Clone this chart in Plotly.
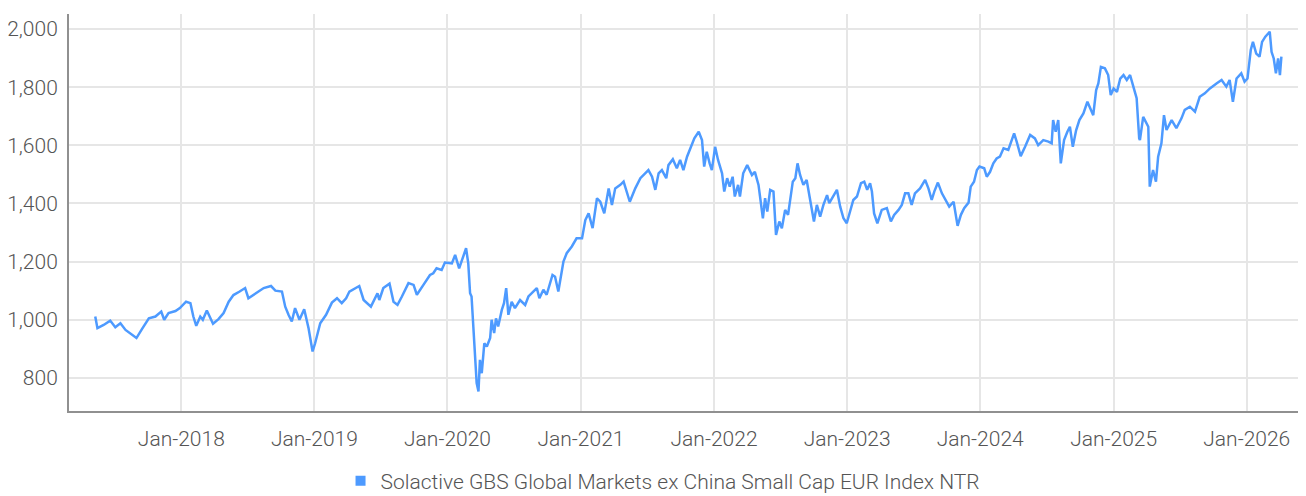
import plotly.graph_objects as go

SERIES_NAME = "Solactive GBS Global Markets ex China Small Cap EUR Index NTR"

dates = [
    "2017-05-10", "2017-05-16", "2017-06-02", "2017-06-20", "2017-07-04", "2017-07-18", "2017-08-01",
    "2017-08-14", "2017-08-31", "2017-09-15", "2017-10-04", "2017-10-22", "2017-11-07", "2017-11-15",
    "2017-11-27", "2017-12-16", "2017-12-28",
    "2018-01-14", "2018-01-26", "2018-02-03", "2018-02-11", "2018-02-22", "2018-03-01", "2018-03-12",
    "2018-03-22", "2018-03-29", "2018-04-13", "2018-04-27", "2018-05-11", "2018-05-24", "2018-06-10",
    "2018-06-18", "2018-06-25", "2018-07-04", "2018-07-23", "2018-08-15", "2018-09-04", "2018-09-16",
    "2018-10-04", "2018-10-13", "2018-10-22", "2018-10-31", "2018-11-09", "2018-11-21", "2018-12-04",
    "2018-12-16", "2018-12-27",
    "2019-01-03", "2019-01-17", "2019-02-02", "2019-02-18", "2019-03-04", "2019-03-17", "2019-03-29",
    "2019-04-07", "2019-04-23", "2019-05-04", "2019-05-16", "2019-06-05", "2019-06-23", "2019-06-28",
    "2019-07-09", "2019-07-26", "2019-08-06", "2019-08-17", "2019-08-29", "2019-09-16", "2019-09-30",
    "2019-10-09", "2019-10-27", "2019-11-14", "2019-11-23", "2019-12-02", "2019-12-16", "2019-12-25",
    "2020-01-13", "2020-01-22", "2020-02-02", "2020-02-12", "2020-02-21", "2020-02-27", "2020-03-03",
    "2020-03-07", "2020-03-12", "2020-03-17", "2020-03-21", "2020-03-26", "2020-03-30", "2020-04-04",
    "2020-04-11", "2020-04-18", "2020-04-27", "2020-05-01", "2020-05-08", "2020-05-13", "2020-05-19",
    "2020-05-29", "2020-06-04", "2020-06-10", "2020-06-16", "2020-06-25", "2020-07-04", "2020-07-18",
    "2020-08-01", "2020-08-10", "2020-08-24", "2020-09-02", "2020-09-09", "2020-09-20", "2020-09-29",
    "2020-10-15", "2020-10-22", "2020-10-31", "2020-11-14", "2020-11-23", "2020-12-07", "2020-12-20",
    "2021-01-04", "2021-01-13", "2021-01-22", "2021-02-02", "2021-02-14", "2021-02-23", "2021-03-06",
    "2021-03-18", "2021-03-27", "2021-04-05", "2021-04-19", "2021-04-28", "2021-05-15", "2021-05-30",
    "2021-06-13", "2021-07-05", "2021-07-15", "2021-07-24", "2021-08-02", "2021-08-11", "2021-08-23",
    "2021-08-29", "2021-09-10", "2021-09-21", "2021-09-30", "2021-10-09", "2021-10-19", "2021-10-25",
    "2021-11-08", "2021-11-20", "2021-11-29", "2021-12-05", "2021-12-12", "2021-12-20", "2021-12-26",
    "2022-01-04", "2022-01-12", "2022-01-23", "2022-01-29", "2022-02-06", "2022-02-13", "2022-02-21",
    "2022-02-27", "2022-03-08", "2022-03-13", "2022-03-22", "2022-04-02", "2022-04-15", "2022-04-23",
    "2022-05-03", "2022-05-09", "2022-05-15", "2022-05-21", "2022-05-27", "2022-06-04", "2022-06-13",
    "2022-06-20", "2022-06-29", "2022-07-06", "2022-07-15", "2022-07-23", "2022-07-29", "2022-08-05",
    "2022-08-12", "2022-08-18", "2022-08-25", "2022-09-03", "2022-09-12", "2022-09-22", "2022-10-02",
    "2022-10-10", "2022-10-19", "2022-10-28", "2022-11-07", "2022-11-13", "2022-11-23", "2022-12-04",
    "2022-12-13", "2022-12-22", "2022-12-31",
    "2023-01-09", "2023-01-18", "2023-01-28", "2023-02-08", "2023-02-17", "2023-02-25", "2023-03-05",
    "2023-03-10", "2023-03-16", "2023-03-25", "2023-04-06", "2023-04-20", "2023-05-01", "2023-05-10",
    "2023-05-22", "2023-05-31", "2023-06-09", "2023-06-18", "2023-06-27", "2023-07-06", "2023-07-20",
    "2023-08-03", "2023-08-12", "2023-08-21", "2023-08-28", "2023-09-07", "2023-09-18", "2023-09-29",
    "2023-10-08", "2023-10-20", "2023-10-31", "2023-11-09", "2023-11-18", "2023-11-30", "2023-12-06",
    "2023-12-15", "2023-12-23", "2023-12-30",
    "2024-01-12", "2024-01-19", "2024-01-28", "2024-02-06", "2024-02-15", "2024-02-24", "2024-03-05",
    "2024-03-18", "2024-03-28", "2024-04-03", "2024-04-10", "2024-04-21", "2024-05-03", "2024-05-17",
    "2024-05-30", "2024-06-08", "2024-06-22", "2024-07-06", "2024-07-15", "2024-07-19", "2024-07-26",
    "2024-08-02", "2024-08-09", "2024-08-18", "2024-08-27", "2024-09-03", "2024-09-11", "2024-09-20",
    "2024-09-29", "2024-10-10", "2024-10-21", "2024-10-30", "2024-11-06", "2024-11-14", "2024-11-20",
    "2024-11-27", "2024-12-08", "2024-12-17", "2024-12-24",
    "2025-01-01", "2025-01-10", "2025-01-19", "2025-01-28", "2025-02-06", "2025-02-15", "2025-02-24",
    "2025-03-05", "2025-03-12", "2025-03-14", "2025-03-23", "2025-04-06", "2025-04-10", "2025-04-19",
    "2025-04-27", "2025-05-03", "2025-05-12", "2025-05-19", "2025-05-26", "2025-06-09", "2025-06-22",
    "2025-07-06", "2025-07-15", "2025-07-29", "2025-08-12", "2025-08-25", "2025-09-08", "2025-09-22",
    "2025-10-10", "2025-10-24", "2025-11-06", "2025-11-15", "2025-11-24", "2025-12-04", "2025-12-17",
    "2025-12-26",
    "2026-01-03", "2026-01-12", "2026-01-18", "2026-01-27", "2026-02-05", "2026-02-12", "2026-02-21",
    "2026-03-05", "2026-03-10", "2026-03-16", "2026-03-22", "2026-03-28", "2026-04-02", "2026-04-06",
]

values = [
    1011, 971, 982, 997, 974, 988, 965,
    954, 937, 968, 1005, 1011, 1028, 1000,
    1023, 1030, 1040,
    1062, 1057, 1011, 979, 1011, 1000, 1032,
    1005, 986, 1002, 1023, 1062, 1085, 1097,
    1103, 1109, 1074, 1091, 1109, 1116, 1100,
    1097, 1045, 1017, 994, 1040, 1000, 1036,
    971, 891,
    919, 988, 1017, 1059, 1074, 1057, 1074,
    1097, 1109, 1116, 1068, 1045, 1091, 1068,
    1109, 1124, 1062, 1051, 1080, 1126, 1120,
    1086, 1120, 1154, 1160, 1177, 1171, 1197,
    1194, 1223, 1177, 1217, 1246, 1194, 1091,
    1080, 965, 851, 782, 753, 862, 816,
    919, 908, 937, 1000, 954, 1005, 977,
    1034, 1057, 1109, 1017, 1062, 1040, 1068,
    1051, 1080, 1097, 1109, 1074, 1103, 1086,
    1154, 1148, 1097, 1200, 1229, 1252, 1280,
    1280, 1343, 1366, 1315, 1418, 1406, 1366,
    1452, 1395, 1452, 1464, 1475, 1406, 1452,
    1487, 1515, 1492, 1447, 1504, 1515, 1487,
    1532, 1552, 1521, 1550, 1515, 1561, 1578,
    1624, 1647, 1618, 1527, 1578, 1538, 1515,
    1595, 1550, 1504, 1441, 1487, 1458, 1492,
    1424, 1464, 1424, 1504, 1532, 1498, 1509,
    1464, 1412, 1349, 1418, 1372, 1447, 1441,
    1292, 1338, 1315, 1378, 1361, 1418, 1475,
    1487, 1538, 1498, 1464, 1481, 1406, 1338,
    1395, 1355, 1395, 1429, 1401, 1424, 1447,
    1389, 1349, 1332,
    1372, 1412, 1424, 1470, 1475, 1447, 1470,
    1441, 1366, 1332, 1378, 1384, 1338, 1361,
    1378, 1395, 1435, 1435, 1395, 1435, 1452,
    1481, 1452, 1412, 1441, 1472, 1435, 1412,
    1389, 1406, 1323, 1361, 1384, 1403, 1458,
    1475, 1515, 1527,
    1521, 1492, 1509, 1538, 1555, 1561, 1590,
    1584, 1618, 1641, 1613, 1563, 1595, 1636,
    1624, 1601, 1618, 1613, 1607, 1687, 1647,
    1687, 1538, 1618, 1647, 1664, 1595, 1652,
    1687, 1710, 1750, 1722, 1704, 1790, 1813,
    1870, 1865, 1842, 1773,
    1796, 1784, 1830, 1842, 1825, 1842, 1802,
    1762, 1624, 1618, 1698, 1664, 1458, 1515,
    1475, 1561, 1607, 1704, 1653, 1687, 1659,
    1693, 1722, 1733, 1716, 1767, 1779, 1796,
    1813, 1825, 1802, 1825, 1750, 1830, 1848,
    1819,
    1830, 1928, 1956, 1916, 1905, 1956, 1974,
    1991, 1922, 1899, 1848, 1899, 1842, 1905,
]

x_range = ["2017-02-27", "2026-06-07"]
y_range = [686, 2052]
y_ticks = [800, 1000, 1200, 1400, 1600, 1800, 2000]
x_tick_dates = ["2018-01-01", "2019-01-01", "2020-01-01", "2021-01-01", "2022-01-01",
                "2023-01-01", "2024-01-01", "2025-01-01", "2026-01-01"]
x_tick_text = ["Jan-2018", "Jan-2019", "Jan-2020", "Jan-2021", "Jan-2022",
               "Jan-2023", "Jan-2024", "Jan-2025", "Jan-2026"]

LINE_COLOR = "#4D9AFF"
FONT = "Roboto, sans-serif"
TEXT_COLOR = "#555555"

fig = go.Figure()
fig.add_trace(go.Scatter(
    x=dates, y=values, mode="lines", name=SERIES_NAME,
    line=dict(color=LINE_COLOR, width=2.5), showlegend=False,
))
# legend entry with square symbol
fig.add_trace(go.Scatter(
    x=[None], y=[None], mode="markers", name=SERIES_NAME,
    marker=dict(symbol="square", size=10, color=LINE_COLOR),
    showlegend=True,
))

fig.update_layout(
    width=1298, height=488,
    margin=dict(l=61, r=2, t=6, b=85, autoexpand=False),
    paper_bgcolor="white", plot_bgcolor="white",
    font=dict(family=FONT, size=21, color=TEXT_COLOR, weight=300),
    legend=dict(orientation="h", x=0.481, xanchor="center", y=-0.125, yanchor="top",
                font=dict(size=21, color=TEXT_COLOR, weight=300), itemwidth=30,
                tracegroupgap=0),
    xaxis=dict(
        type="date", range=x_range, automargin=False,
        tickvals=x_tick_dates, ticktext=x_tick_text,
        showgrid=True, gridcolor="#e6e6e6", gridwidth=2,
        showline=True, linecolor="#909090", linewidth=2,
        ticks="", ticklabelstandoff=8, zeroline=False,
    ),
    yaxis=dict(
        range=y_range, tickvals=y_ticks, tickformat=",", automargin=False,
        showgrid=True, gridcolor="#e6e6e6", gridwidth=2,
        showline=True, linecolor="#909090", linewidth=2,
        ticks="", ticklabelstandoff=5, zeroline=False,
    ),
)

fig.write_html("out.html")
